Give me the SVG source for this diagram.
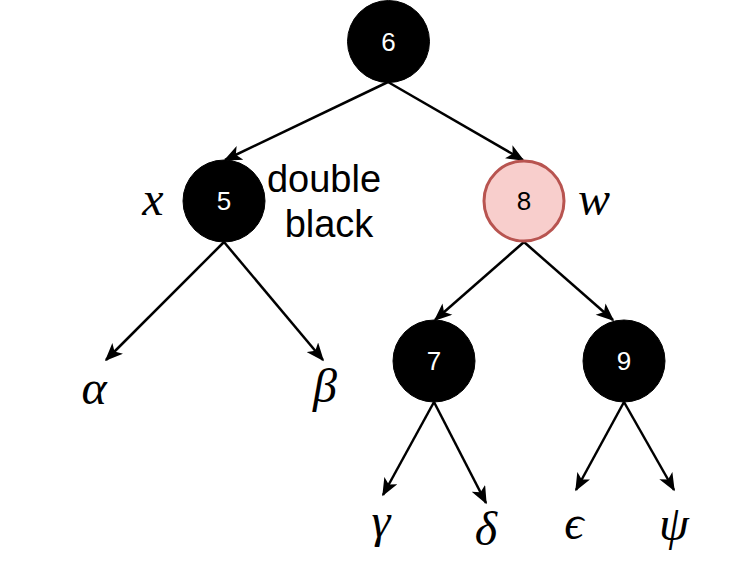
<svg xmlns="http://www.w3.org/2000/svg" width="746" height="565" viewBox="0 0 746 565">
<defs>
<style>
.blk{fill:#000;stroke:#000;stroke-width:1}
.red{fill:#f8cecc;stroke:#b85450;stroke-width:3}
.num{font-family:"Liberation Sans",Arial,sans-serif;font-size:26px;text-anchor:middle;dominant-baseline:central}
.w{fill:#fff}
.k{fill:#000}
.math{font-family:"Liberation Serif","Times New Roman",serif;font-style:italic;font-size:48px;text-anchor:middle;fill:#000}
.lbl{font-family:"Liberation Sans",Arial,sans-serif;font-size:38px;text-anchor:middle;fill:#000}
.edge{stroke:#000;stroke-width:2.5;fill:none;marker-end:url(#arr)}
</style>
<marker id="arr" viewBox="0 0 12 10" refX="11" refY="5" markerWidth="19" markerHeight="15" markerUnits="userSpaceOnUse" orient="auto">
<path d="M0,0 L12,5 L0,10 L3,5 z" fill="#000"/>
</marker>
</defs>
<g id="connectors">
<line class="edge" x1="388" y1="82" x2="225" y2="160"/>
<line class="edge" x1="388" y1="82" x2="523" y2="160"/>
<line class="edge" x1="224" y1="242" x2="106" y2="360"/>
<line class="edge" x1="224" y1="242" x2="323" y2="360"/>
<line class="edge" x1="524" y1="242" x2="435" y2="320"/>
<line class="edge" x1="524" y1="242" x2="613" y2="320"/>
<line class="edge" x1="434" y1="402" x2="383" y2="495"/>
<line class="edge" x1="434" y1="402" x2="486" y2="503"/>
<line class="edge" x1="624" y1="402" x2="576" y2="490"/>
<line class="edge" x1="624" y1="402" x2="674" y2="490"/>
</g>
<g id="node6"><circle class="blk" cx="388.5" cy="41.5" r="41"/><text class="num w" x="388.5" y="41.5">6</text></g>
<g id="node5"><circle class="blk" cx="224" cy="201" r="41"/><text class="num w" x="224" y="201">5</text></g>
<g id="node8"><circle class="red" cx="524" cy="201" r="40"/><text class="num k" x="524" y="201">8</text></g>
<g id="node7"><circle class="blk" cx="434" cy="361" r="41"/><text class="num w" x="434" y="361">7</text></g>
<g id="node9"><circle class="blk" cx="624" cy="361" r="41"/><text class="num w" x="624" y="361">9</text></g>
<g id="label-x"><text class="math" x="153" y="215">x</text></g>
<g id="label-w"><text class="math" x="594" y="215">w</text></g>
<g id="label-double-black"><text class="lbl" x="324" y="192">double</text><text class="lbl" x="329" y="237">black</text></g>
<g id="label-alpha"><text class="math" x="94" y="404">α</text></g>
<g id="label-beta"><text class="math" x="325" y="402">β</text></g>
<g id="label-gamma"><text class="math" x="381" y="537">γ</text></g>
<g id="label-delta"><text class="math" x="486" y="545">δ</text></g>
<g id="label-epsilon"><text class="math" x="574" y="539">ϵ</text></g>
<g id="label-psi"><text class="math" x="674" y="540">ψ</text></g>
</svg>
